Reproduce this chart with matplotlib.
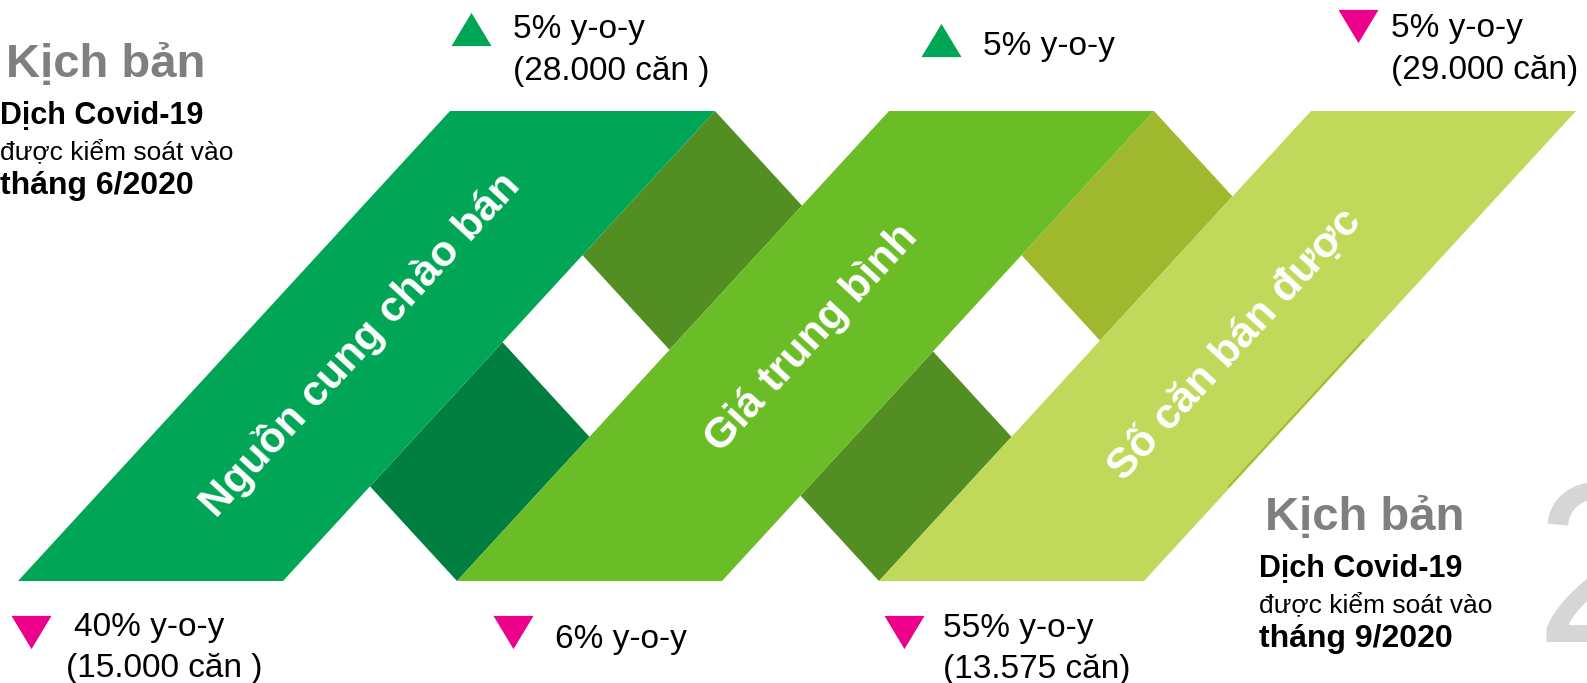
import matplotlib
matplotlib.use("Agg")
import matplotlib.pyplot as plt
from matplotlib.patches import Polygon

plt.rcParams['font.family'] = ['Liberation Sans', 'DejaVu Sans']

# Chart content.
metrics = ["Nguồn cung chào bán", "Giá trung bình", "Số căn bán được"]

# Scenario 1: epidemic under control in 6/2020 (bottom row).
s1_change = ["40% y-o-y", "6% y-o-y", "55% y-o-y"]
s1_units = ["(15.000 căn )", "", "(13.575 căn)"]
s1_dir = ["down", "down", "down"]

# Scenario 2: epidemic under control in 9/2020 (top row).
s2_change = ["5% y-o-y", "5% y-o-y", "5% y-o-y"]
s2_units = ["(28.000 căn )", "", "(29.000 căn)"]
s2_dir = ["up", "up", "down"]

scenario_title = "Kịch bản"
scenario_lines = ["Dịch Covid-19", "được kiểm soát vào"]
scenario_months = ["tháng 6/2020", "tháng 9/2020"]

# Colours.
front_colors = ["#00A656", "#6BBD28", "#C0D95B"]
upper_back = ["#528E22", "#9FB82E"]
lower_back = ["#007F40", "#528E22"]
up_color = "#00A656"
down_color = "#EC008C"

# Ribbon geometry (pixel space).
W, H = 1587, 683
y_top, y_bot = 111, 581
ribbon_w = 265
lean = 432
ribbon_x0 = [18, 457, 879]
s = lean / (y_bot - y_top)

fig = plt.figure(figsize=(W / 100, H / 100), dpi=100)
ax = fig.add_axes([0, 0, 1, 1])
ax.set_xlim(0, W)
ax.set_ylim(H, 0)
ax.axis("off")


def uv_point(u, v):
    # u = x - s*y (down-right lines), v = x + s*y (up-right lines)
    return ((u + v) / 2, (v - u) / (2 * s))


# Back pieces between neighbouring ribbons.
for i in range(len(ribbon_x0) - 1):
    xa, xb = ribbon_x0[i], ribbon_x0[i + 1]
    va = xa + ribbon_w + s * y_bot
    vb = xb + s * y_bot
    u1 = xa + ribbon_w + lean - s * y_top
    u4 = xb - s * y_bot
    u2 = u1 - ribbon_w
    u3 = u4 + ribbon_w
    up = [uv_point(u1, va), uv_point(u1, vb), uv_point(u2, vb), uv_point(u2, va)]
    lo = [uv_point(u3, va), uv_point(u3, vb), uv_point(u4, vb), uv_point(u4, va)]
    ax.add_patch(Polygon(up, closed=True, fc=upper_back[i], ec="none", zorder=1))
    ax.add_patch(Polygon(lo, closed=True, fc=lower_back[i], ec="none", zorder=1))

# Front ribbons.
for x0, c in zip(ribbon_x0, front_colors):
    pts = [(x0, y_bot), (x0 + ribbon_w, y_bot),
           (x0 + ribbon_w + lean, y_top), (x0 + lean, y_top)]
    ax.add_patch(Polygon(pts, closed=True, fc=c, ec="none", zorder=2))

# small seam on the right edge of the last ribbon
xr = ribbon_x0[-1] + ribbon_w
ax.plot([xr + s * (y_bot - 487) - 2, xr + s * (y_bot - 340) - 2], [487, 340],
        color="#9FB82E", lw=1.2, zorder=3)

# Ribbon labels.
angle = 47.4
label_pos = [(360, 345), (812, 338), (1235, 345)]
for name, (x, y) in zip(metrics, label_pos):
    ax.text(x, y, name, rotation=angle, rotation_mode="anchor", ha="center",
            va="center", fontsize=31, fontweight="bold", color="white", zorder=4)

# Triangle markers.
tri_up = [(-1, -0.83), (1, -0.83), (0, 0.83)]
tri_down = [(-1, 0.83), (1, 0.83), (0, -0.83)]


def marker(x, y, direction):
    m = tri_up if direction == "up" else tri_down
    c = up_color if direction == "up" else down_color
    ax.scatter([x], [y], marker=m, s=830, color=c, linewidths=0, zorder=5)


top_marks = [(471, 29), (941, 40), (1358, 26)]
top_text = [(513, 38), (983, 55), (1391, 37)]
for i in range(3):
    marker(*top_marks[i], s2_dir[i])
    tx, ty = top_text[i]
    ax.text(tx, ty, s2_change[i], fontsize=24, va="baseline", ha="left")
    if s2_units[i]:
        ax.text(tx, ty + 42, s2_units[i], fontsize=24, va="baseline", ha="left")

bot_marks = [(31, 632), (513, 632), (904, 632)]
bot_text = [(74, 636), (555, 648), (943, 637)]
for i in range(3):
    marker(*bot_marks[i], s1_dir[i])
    tx, ty = bot_text[i]
    ax.text(tx, ty, s1_change[i], fontsize=24, va="baseline", ha="left")
    if s1_units[i]:
        ax.text(tx - 8 if i == 0 else tx, ty + 41, s1_units[i], fontsize=24,
                va="baseline", ha="left")

# Scenario blocks.
blocks = [(4, 77, scenario_months[0]), (1259, 530, scenario_months[1])]
for j, (bx, by, month) in enumerate(blocks):
    ax.text(bx + (2 if j == 0 else 6), by, scenario_title, fontsize=34,
            fontweight="bold", color="#7F7F7F", va="baseline")
    ax.text(bx - 4 if j == 0 else bx, by + 47, scenario_lines[0], fontsize=22,
            fontweight="bold", va="baseline")
    ax.text(bx - 4 if j == 0 else bx, by + 82, scenario_lines[1], fontsize=19,
            va="baseline")
    ax.text(bx - 4 if j == 0 else bx, by + 117, month, fontsize=23,
            fontweight="bold", va="baseline")

# Big scenario number, clipped by the right edge.
ax.text(1535, 642, "2", fontsize=165, color="#D6D6D6", va="baseline",
        ha="left", zorder=0)

fig.savefig("out.png", dpi=100)
